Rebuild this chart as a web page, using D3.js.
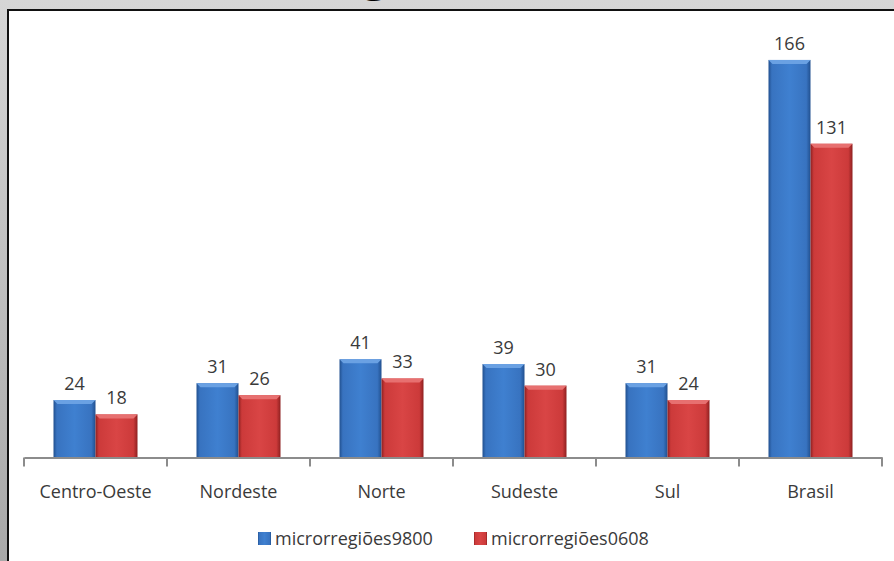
<!DOCTYPE html>
<html>
<head>
<meta charset="utf-8">
<script src="https://cdn.jsdelivr.net/npm/d3@7"></script>
<style>
  body { margin: 0; background: #d4d4d4; }
  svg { display: block; }
</style>
</head>
<body>
<div id="chart1"></div>
<script>
// values
var categories = ["Centro-Oeste", "Nordeste", "Norte", "Sudeste", "Sul", "Brasil"]
var seriesNames = ["microrregiões9800", "microrregiões0608"]
var micro9800 = [24, 31, 41, 39, 31, 166]
var micro0608 = [18, 26, 33, 30, 24, 131]

var width = 894
var height = 561
var font = "'Open Sans', 'Noto Sans', sans-serif"

var svg = d3.select("#chart1").append("svg")
    .attr("width", width)
    .attr("height", height)

var defs = svg.append("defs")

// gray page behind the chart (darker towards the bottom)
var bgGrad = defs.append("linearGradient").attr("id", "bgGrad")
    .attr("x1", 0).attr("y1", 0).attr("x2", 0).attr("y2", 1)
bgGrad.append("stop").attr("offset", "0%").attr("stop-color", "#d6d6d6")
bgGrad.append("stop").attr("offset", "100%").attr("stop-color", "#a8a8a8")

// bar gradients, a bit of the 3d bevel look
function barGradient(id, light, mid, dark) {
    var g = defs.append("linearGradient").attr("id", id)
        .attr("x1", 0).attr("y1", 0).attr("x2", 1).attr("y2", 0)
    g.append("stop").attr("offset", "0%").attr("stop-color", dark)
    g.append("stop").attr("offset", "8%").attr("stop-color", mid)
    g.append("stop").attr("offset", "50%").attr("stop-color", light)
    g.append("stop").attr("offset", "90%").attr("stop-color", mid)
    g.append("stop").attr("offset", "100%").attr("stop-color", dark)
}
barGradient("blueGrad", "#3f80d0", "#3873c0", "#21508f")
barGradient("redGrad", "#d94545", "#cc3a3a", "#8e2020")

var colors = ["url(#blueGrad)", "url(#redGrad)"]
var topColors = ["#6aa1e3", "#e77070"]

svg.append("rect")
    .attr("x", 0).attr("y", 0)
    .attr("width", width).attr("height", height)
    .attr("fill", "url(#bgGrad)")

// the title is cut off by the top of the picture, only a descender shows
svg.append("text")
    .attr("x", 376).attr("y", -8)
    .attr("text-anchor", "middle")
    .attr("font-family", "'DejaVu Sans', sans-serif")
    .attr("font-weight", "bold")
    .attr("font-size", "44px")
    .attr("fill", "#000")
    .text("g")

// white chart area
svg.append("rect")
    .attr("x", 8).attr("y", 10)
    .attr("width", width).attr("height", height)
    .attr("fill", "#fff")
    .attr("stroke", "#111")
    .attr("stroke-width", 2)

var left = 24, right = 882
var baseY = 457.5, topY = 26.4

var x0 = d3.scaleBand().domain(categories).range([left, right]).padding(0)
var groupW = 84
var x1 = d3.scaleBand().domain(seriesNames).range([0, groupW]).padding(0)
var y = d3.scaleLinear().domain([0, 180]).range([baseY, topY])

var rows = categories.map(function(c, i) {
    return { cat: c, vals: [micro9800[i], micro0608[i]] }
})

var groups = svg.selectAll(".grp")
    .data(rows)
    .enter().append("g")
    .attr("class", "grp")
    .attr("transform", function(d) {
        return "translate(" + (x0(d.cat) + (x0.bandwidth() - groupW) / 2) + ",0)"
    })

groups.each(function(d) {
    var g = d3.select(this)
    d.vals.forEach(function(v, j) {
        var bx = x1(seriesNames[j])
        var bw = x1.bandwidth()
        g.append("rect")
            .attr("x", bx).attr("y", y(v))
            .attr("width", bw).attr("height", baseY - y(v))
            .attr("fill", colors[j])
        // light bevel on top
        g.append("path")
            .attr("d", "M" + bx + "," + y(v) + "h" + bw + "l-4,4h" + (-(bw - 8)) + "z")
            .attr("fill", topColors[j])
        g.append("text")
            .attr("x", bx + bw / 2)
            .attr("y", y(v) - 10)
            .attr("text-anchor", "middle")
            .attr("font-family", font)
            .attr("font-size", "18px")
            .attr("fill", "#3a3a3a")
            .text(v)
    })
})

// category axis
var axis = d3.axisBottom(x0).tickSize(0).tickPadding(28)
var ax = svg.append("g")
    .attr("transform", "translate(0," + baseY + ")")
    .call(axis)
ax.select(".domain").attr("stroke", "#8c8c8c").attr("stroke-width", 2)
ax.selectAll("text")
    .attr("font-family", font)
    .attr("font-size", "18px")
    .attr("fill", "#3a3a3a")

// tick marks between categories
var bounds = categories.map(function(c) { return x0(c) }).concat([right])
svg.selectAll(".sep")
    .data(bounds)
    .enter().append("line")
    .attr("class", "sep")
    .attr("x1", function(d) { return d }).attr("x2", function(d) { return d })
    .attr("y1", baseY).attr("y2", baseY + 9)
    .attr("stroke", "#8c8c8c")
    .attr("stroke-width", 2)

// legend
var legendX = [258, 474]
var legend = svg.selectAll(".leg")
    .data(seriesNames)
    .enter().append("g")
    .attr("class", "leg")
    .attr("transform", function(d, i) { return "translate(" + legendX[i] + ",532)" })
legend.append("rect")
    .attr("width", 13).attr("height", 13)
    .attr("fill", function(d, i) { return colors[i] })
legend.append("text")
    .attr("x", 17).attr("y", 13)
    .attr("font-family", font)
    .attr("font-size", "18px")
    .attr("fill", "#3a3a3a")
    .text(function(d) { return d })
</script>
</body>
</html>
